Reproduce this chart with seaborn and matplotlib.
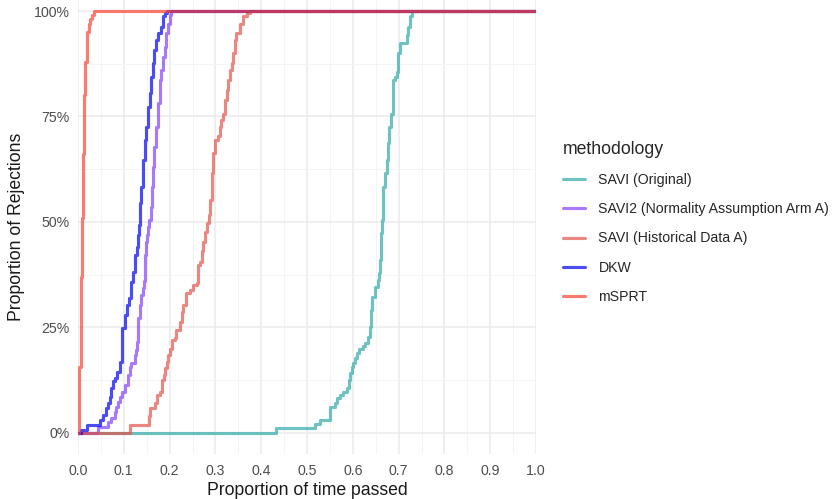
import matplotlib
matplotlib.use("Agg")
import matplotlib.pyplot as plt
from matplotlib.lines import Line2D
from matplotlib.ticker import FixedLocator
import seaborn as sns
import pandas as pd

# ---------------- data ----------------
methods = ["SAVI (Original)", "SAVI2 (Normality Assumption Arm A)",
           "SAVI (Historical Data A)", "DKW", "mSPRT"]

savi_orig_t = [0.000, 0.432, 0.517, 0.528, 0.550, 0.561, 0.565, 0.572, 0.579, 0.587,
               0.592, 0.594, 0.598, 0.601, 0.605, 0.609, 0.614, 0.623, 0.627, 0.634,
               0.638, 0.639, 0.643, 0.648, 0.654, 0.658, 0.659, 0.661, 0.663, 0.665,
               0.667, 0.670, 0.674, 0.676, 0.680, 0.683, 0.687, 0.692, 0.696, 0.699,
               0.703, 0.718, 0.721, 0.725, 0.729, 1.000]
savi_orig_p = [0.000, 0.011, 0.021, 0.031, 0.062, 0.070, 0.082, 0.090, 0.098, 0.106,
               0.126, 0.141, 0.157, 0.165, 0.177, 0.189, 0.200, 0.205, 0.212, 0.228,
               0.252, 0.291, 0.323, 0.347, 0.363, 0.378, 0.410, 0.473, 0.505, 0.536,
               0.584, 0.615, 0.647, 0.686, 0.726, 0.757, 0.836, 0.844, 0.856, 0.900,
               0.924, 0.943, 0.963, 0.987, 1.000, 1.000]

savi2_t = [0.000, 0.043, 0.066, 0.073, 0.080, 0.084, 0.087, 0.091, 0.095, 0.102,
           0.109, 0.113, 0.116, 0.124, 0.127, 0.129, 0.131, 0.132, 0.135, 0.138,
           0.142, 0.144, 0.146, 0.147, 0.149, 0.151, 0.153, 0.155, 0.159, 0.162,
           0.164, 0.167, 0.171, 0.175, 0.178, 0.182, 0.186, 0.189, 0.193, 0.197,
           0.200, 0.202, 1.000]
savi2_p = [0.000, 0.013, 0.027, 0.035, 0.050, 0.062, 0.074, 0.086, 0.098, 0.114,
           0.137, 0.157, 0.165, 0.185, 0.197, 0.216, 0.240, 0.272, 0.303, 0.327,
           0.343, 0.359, 0.390, 0.422, 0.453, 0.469, 0.489, 0.505, 0.536, 0.584,
           0.631, 0.678, 0.726, 0.781, 0.836, 0.860, 0.892, 0.915, 0.947, 0.970,
           0.990, 1.000, 1.000]

savi_hist_t = [0.000, 0.1135, 0.154, 0.157, 0.168, 0.172, 0.179, 0.183, 0.188, 0.191,
               0.194, 0.197, 0.201, 0.205, 0.212, 0.215, 0.223, 0.226, 0.230, 0.235,
               0.245, 0.252, 0.259, 0.261, 0.263, 0.266, 0.270, 0.274, 0.277, 0.281,
               0.285, 0.288, 0.292, 0.295, 0.299, 0.306, 0.310, 0.313, 0.317, 0.321,
               0.325, 0.328, 0.332, 0.336, 0.339, 0.343, 0.346, 0.354, 0.361, 0.368,
               0.376, 1.000]
savi_hist_p = [0.000, 0.019, 0.039, 0.058, 0.070, 0.090, 0.098, 0.126, 0.137, 0.153,
               0.169, 0.185, 0.200, 0.220, 0.224, 0.244, 0.264, 0.287, 0.303, 0.331,
               0.339, 0.351, 0.355, 0.374, 0.398, 0.406, 0.430, 0.453, 0.477, 0.497,
               0.517, 0.552, 0.615, 0.663, 0.694, 0.703, 0.726, 0.742, 0.757, 0.789,
               0.813, 0.836, 0.860, 0.876, 0.900, 0.931, 0.947, 0.970, 0.987, 0.995,
               1.000, 1.000]

dkw_t = [0.000, 0.006, 0.020, 0.047, 0.055, 0.062, 0.066, 0.069, 0.073, 0.076,
         0.0815, 0.086, 0.091, 0.095, 0.097, 0.102, 0.108, 0.111, 0.115, 0.116,
         0.120, 0.124, 0.125, 0.129, 0.131, 0.133, 0.135, 0.138, 0.142, 0.146,
         0.149, 0.153, 0.157, 0.160, 0.164, 0.167, 0.171, 0.175, 0.182, 0.186,
         0.191, 0.195, 1.000]
dkw_p = [0.000, 0.007, 0.019, 0.031, 0.043, 0.058, 0.071, 0.086, 0.106, 0.122,
         0.130, 0.145, 0.169, 0.193, 0.248, 0.280, 0.303, 0.319, 0.331, 0.358,
         0.382, 0.402, 0.422, 0.441, 0.469, 0.493, 0.545, 0.584, 0.647, 0.694,
         0.726, 0.773, 0.805, 0.844, 0.876, 0.908, 0.931, 0.947, 0.963, 0.987,
         0.995, 1.000, 1.000]

msprt_t = [0.000, 0.003, 0.0066, 0.0087, 0.011, 0.013, 0.016, 0.020, 0.023, 0.027,
           0.031, 0.034, 1.000]
msprt_p = [0.000, 0.156, 0.370, 0.510, 0.660, 0.800, 0.880, 0.950, 0.970, 0.980,
           0.990, 1.000, 1.000]

x_ticks = [0.0, 0.1, 0.2, 0.3, 0.4, 0.5, 0.6, 0.7, 0.8, 0.9, 1.0]
x_tick_labels = ["0.0", "0.1", "0.2", "0.3", "0.4", "0.5", "0.6", "0.7", "0.8", "0.9", "1.0"]
y_ticks = [0.0, 0.25, 0.5, 0.75, 1.0]
y_tick_labels = ["0%", "25%", "50%", "75%", "100%"]

colors = ["#30A9A9", "#8341F8", "#E2544A", "#0000F1", "#F84530"]

series = [(savi_orig_t, savi_orig_p), (savi2_t, savi2_p), (savi_hist_t, savi_hist_p),
          (dkw_t, dkw_p), (msprt_t, msprt_p)]
frames = []
for name, (t, p) in zip(methods, series):
    frames.append(pd.DataFrame({"time": t, "prop": p, "methodology": name}))
df = pd.concat(frames, ignore_index=True)

# ---------------- style ----------------
sns.set_theme(style="white")
plt.rcParams["font.family"] = ["Liberation Sans", "DejaVu Sans"]

fig = plt.figure(figsize=(8.36, 4.99), dpi=100)
ax = fig.add_axes([78 / 836, 1 - 454 / 499, 458 / 836, 454 / 499])

palette = dict(zip(methods, colors))
ALPHA = 0.7
LW = 2.25
sns.lineplot(data=df, x="time", y="prop", hue="methodology", hue_order=methods,
             palette=palette, estimator=None, drawstyle="steps-post",
             linewidth=LW, alpha=ALPHA, legend=False, ax=ax)

ax.set_xlim(0, 1.0)
ax.set_ylim(-0.05, 1.0 + 11 / 421.9)
ax.set_xticks(x_ticks)
ax.set_xticklabels(x_tick_labels)
ax.set_yticks(y_ticks)
ax.set_yticklabels(y_tick_labels)
ax.xaxis.set_minor_locator(FixedLocator([0.05 + 0.1 * i for i in range(10)]))
ax.yaxis.set_minor_locator(FixedLocator([0.125, 0.375, 0.625, 0.875]))
ax.tick_params(axis="both", which="both", length=0, labelsize=10.2, labelcolor="#4D4D4D")
ax.tick_params(axis="x", pad=7)
ax.tick_params(axis="y", pad=6)
ax.grid(which="major", color="#EBEBEB", linewidth=1.1)
ax.grid(which="minor", color="#F4F4F4", linewidth=0.7)
ax.set_axisbelow(True)
for s in ax.spines.values():
    s.set_visible(False)

ax.set_xlabel("Proportion of time passed", fontsize=12.7, color="#1A1A1A", labelpad=3)
ax.set_ylabel("Proportion of Rejections", fontsize=12.7, color="#1A1A1A", labelpad=6)

handles = [Line2D([0], [0], color=c, lw=LW, alpha=ALPHA) for c in colors]
fig.legend(handles, methods, title="methodology", loc="upper left",
           bbox_to_anchor=(563 / 836, 1 - 141 / 499), frameon=False,
           fontsize=10.2, title_fontsize=12.7, alignment="left",
           handlelength=1.55, handletextpad=0.95, labelspacing=1.07,
           borderpad=0, borderaxespad=0)

fig.savefig("out.png", dpi=100)
